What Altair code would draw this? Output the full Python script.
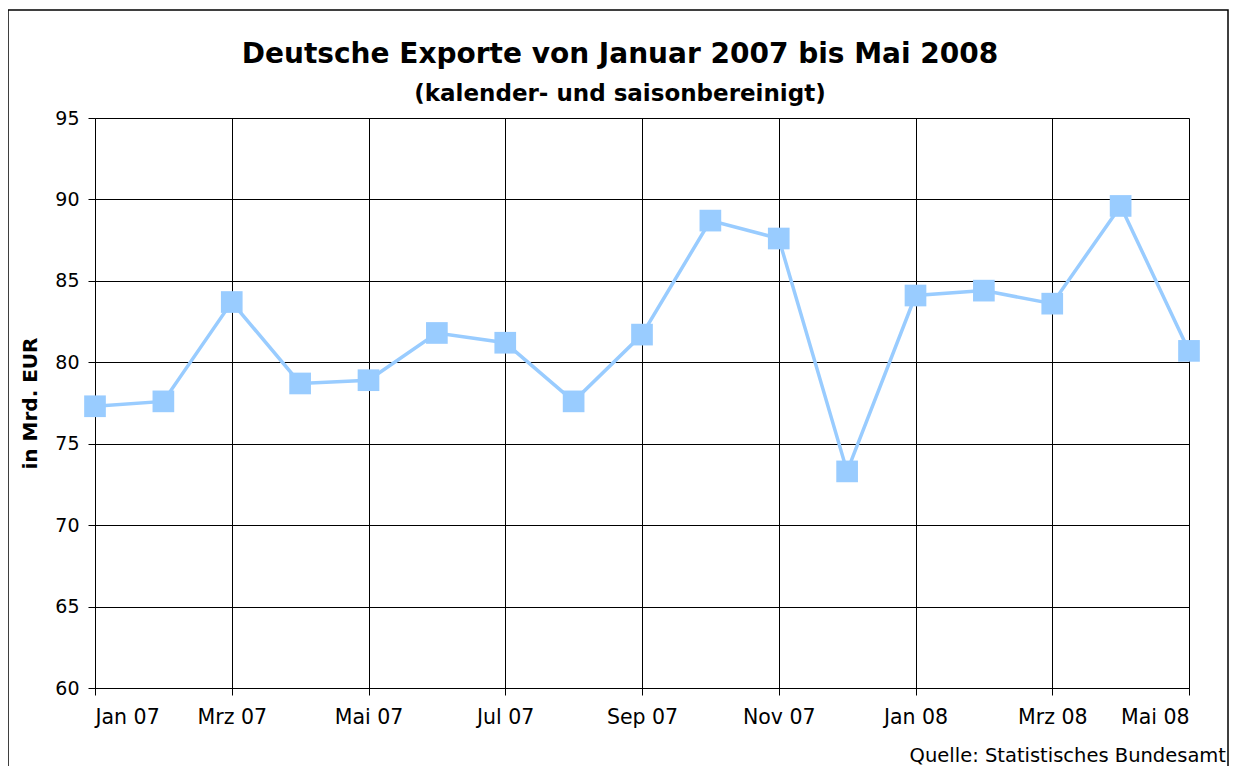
import altair as alt
import pandas as pd

months = ["Jan 07", "Feb 07", "Mrz 07", "Apr 07", "Mai 07", "Jun 07", "Jul 07", "Aug 07",
          "Sep 07", "Okt 07", "Nov 07", "Dez 07", "Jan 08", "Feb 08", "Mrz 08", "Apr 08", "Mai 08"]
exports = [77.3, 77.6, 83.7, 78.7, 78.9, 81.8, 81.2, 77.6,
           81.7, 88.7, 87.6, 73.3, 84.1, 84.4, 83.6, 89.6, 80.7]
tick_labels = ["Jan 07", "Mrz 07", "Mai 07", "Jul 07", "Sep 07", "Nov 07", "Jan 08", "Mrz 08", "Mai 08"]
title_text = "Deutsche Exporte von Januar 2007 bis Mai 2008"
subtitle_text = "(kalender- und saisonbereinigt)"
source_text = "Quelle: Statistisches Bundesamt"

df = pd.DataFrame({"idx": list(range(len(months))), "monat": months, "wert": exports})

FONT = "DejaVu Sans"
W, H = 1094, 570
label_expr = "[" + ",".join("'%s'" % t for t in tick_labels) + "][round(datum.value/2)]"

x = alt.X("idx:Q", scale=alt.Scale(domain=[0, 16], nice=False, zero=False),
          axis=alt.Axis(values=list(range(0, 17, 2)), labelExpr=label_expr, title=None,
                        grid=True, gridColor="black", gridOpacity=1, gridWidth=1,
                        domainColor="black", tickColor="black", tickSize=7,
                        labelFont=FONT, labelFontSize=20.5, labelColor="black", labelPadding=12))
y = alt.Y("wert:Q", scale=alt.Scale(domain=[60, 95], nice=False, zero=False),
          axis=alt.Axis(values=list(range(60, 96, 5)), title="in Mrd. EUR",
                        titleFont=FONT, titleFontSize=20, titleFontWeight="bold", titleColor="black",
                        titlePadding=14,
                        grid=True, gridColor="black", gridOpacity=1, gridWidth=1,
                        domainColor="black", tickColor="black", tickSize=7,
                        labelFont=FONT, labelFontSize=19, labelColor="black", labelPadding=9))

base = alt.Chart(df)
line = base.mark_line(color="#99CCFF", strokeWidth=3.5).encode(x=x, y=y)
pts = base.mark_point(shape="square", filled=True, color="#99CCFF", opacity=1, size=470).encode(
    x=alt.X("idx:Q"), y=alt.Y("wert:Q"))

one = alt.Data(values=[{"a": 1}])
frame = alt.Chart(one).mark_rect(fill=None, stroke="black", strokeWidth=1.5).encode(
    x=alt.value(-87), x2=alt.value(1133), y=alt.value(-108), y2=alt.value(700))
title = alt.Chart(one).mark_text(text=title_text, align="center", baseline="alphabetic",
                                 font=FONT, fontSize=28, fontWeight="bold", color="black").encode(
    x=alt.value(525), y=alt.value(-55))
subtitle = alt.Chart(one).mark_text(text=subtitle_text, align="center", baseline="alphabetic",
                                    font=FONT, fontSize=23, fontWeight="bold", color="black").encode(
    x=alt.value(525), y=alt.value(-17))
source = alt.Chart(one).mark_text(text=source_text, align="right", baseline="alphabetic",
                                  font=FONT, fontSize=19.5, color="black").encode(
    x=alt.value(1131), y=alt.value(644))

chart = alt.layer(line, pts, frame, title, subtitle, source).properties(
    width=W, height=H,
    autosize=alt.AutoSizeParams(type="none"),
    padding={"left": 87, "top": 110, "right": 40, "bottom": 78},
).configure_view(stroke="#808080", strokeWidth=1).configure(background="white")

chart.save("out.html", embed_options={"renderer": "svg", "actions": False})
